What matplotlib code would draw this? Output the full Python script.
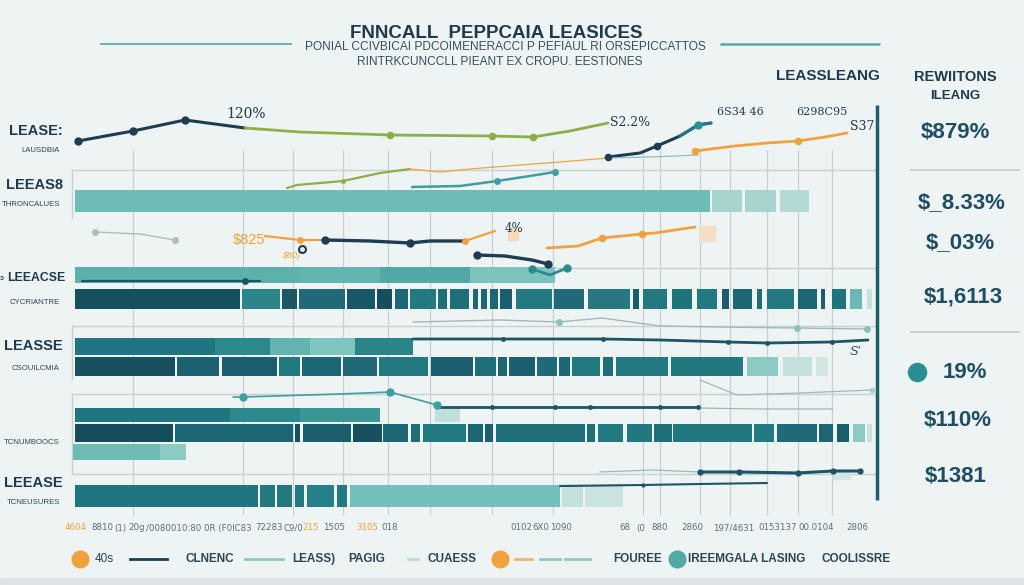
import matplotlib
matplotlib.use("Agg")
import matplotlib.pyplot as plt

plt.rcParams['font.family'] = ['Liberation Sans', 'DejaVu Sans']

BG = '#eef3f4'
NAVY = '#1e3d52'
DTEAL = '#1b5f6e'
TEAL = '#2b8589'
LTEAL = '#6dbcb5'
PALE = '#b9ddd8'
ORANGE = '#f0a23e'
GREEN = '#8fae45'
GRID = '#c9d0d3'
GREYLINE = '#9fb9ba'

# ---------------- data ----------------
title = "FNNCALL  PEPPCAIA LEASICES"
subtitle1 = "PONIAL CCIVBICAI PDCOIMENERACCI P PEFIAUL RI ORSEPICCATTOS"
subtitle2 = "RINTRKCUNCCLL PIEANT EX CROPU. EESTIONES"

left_labels = ["LEASE:", "LEEAS8", "LEEACSE", "LEASSE", "LEEASE"]
left_label_size = [10.5, 10.5, 8.8, 10.5, 10.5]
left_label_right = [63, 63, 65, 63, 63]
left_sublabels = ["LAUSDBIA", "THRONCALUES", "CYCRIANTRE", "CSOUILCMIA", "TCNUMBOOCS", "TCNEUSURES"]

right_head = ["REWIITONS", "ILEANG"]
right_values = ["$879%", "$_8.33%", "$_03%", "$1,6113", "19%", "$110%", "$1381"]

grid_x = [133, 243, 293, 343, 388, 430, 492, 553, 643, 660, 700, 730, 767, 798, 832]

# bar rows: starts, widths, colours
row1_start = [75, 712, 745, 780]
row1_width = [635, 30, 31, 29]
row1_col = [LTEAL, '#a6d4cf', '#a6d4cf', '#b3dad5']

row2_start = [75, 300, 380, 470]
row2_width = [225, 80, 90, 85]
row2_col = ['#5cb1ac', '#63b5b0', '#52a8a4', '#7cc3bd']

row3_start = [75, 242, 282, 299, 347, 377, 395, 410, 438, 450, 473, 481, 490, 500, 516, 554,
              588, 633, 643, 672, 697, 722, 733, 757, 767, 798, 821, 832, 850, 867]
row3_width = [165, 38, 15, 46, 28, 15, 13, 26, 9, 19, 5, 6, 8, 12, 36, 30,
              42, 6, 24, 20, 20, 7, 19, 5, 27, 19, 4, 14, 12, 5]
row3_col = ['#17505f', TEAL, '#1a5866', '#1f6a76', '#175766', '#174e5d', '#1d6673', '#227a80',
            '#1f6f79', '#1f6f79', '#1d6673', '#1d6673', '#1d6673', '#1b5f6e', '#227a80', '#1f6a76',
            '#26777f', '#1b5f6e', '#227a80', '#1f747c', '#227a80', '#1b5f6e', '#1d6673', '#1f6f79',
            '#227a80', '#1d6673', '#1b5f6e', '#1f747c', '#6ab8b1', '#c6e2de']

row4_start = [75, 215, 270, 310, 355]
row4_width = [140, 55, 40, 45, 58]
row4_col = ['#1f7680', '#2c8a8d', '#62b4ae', '#7fc4bd', '#2a8589']

row5_start = [75, 177, 222, 279, 302, 343, 379, 431, 475, 498, 509, 537, 559, 572, 603, 616,
              671, 747, 783, 816]
row5_width = [100, 42, 55, 21, 39, 34, 49, 42, 21, 9, 26, 20, 11, 28, 10, 52,
              72, 31, 29, 12]
row5_col = ['#17505f', '#1d6270', '#1b5f6e', '#227a80', '#1d6673', '#1f6a76', '#227a80', '#1b5f6e',
            '#1f6f79', '#1d6673', '#1b5f6e', '#1f6a76', '#1d6673', '#227a80', '#1f6f79', '#227a80',
            '#22787e', '#8ccac3', '#c4e0dc', '#cfe6e2']

row6_start = [75, 230, 300, 435]
row6_width = [155, 70, 80, 25]
row6_col = ['#1f7680', '#2c8a8d', '#3a9796', '#c0dfda']

row7_start = [75, 175, 295, 303, 353, 383, 411, 423, 468, 485, 496, 587, 598, 627, 654, 673,
              754, 777, 819, 837, 853, 867]
row7_width = [98, 118, 5, 48, 29, 25, 9, 43, 15, 8, 89, 8, 25, 25, 18, 79,
              20, 40, 14, 12, 12, 5]
row7_col = ['#164d5c', '#1d6673', '#17505f', '#1b5f6e', '#17505f', '#1d6673', '#1f6f79', '#227a80',
            '#1d6673', '#1b5f6e', '#1f6f79', '#1f6f79', '#227a80', '#22787e', '#1f6f79', '#22787e',
            '#227a80', '#1f6a76', '#1d6673', '#1b5f6e', '#8ccac3', '#c6e2de']

row8_start = [73, 160]
row8_width = [87, 26]
row8_col = ['#6cbcb5', '#8dcbc4']

row9_start = [75, 260, 277, 295, 307, 337, 350, 562, 585]
row9_width = [183, 15, 15, 9, 27, 10, 210, 21, 38]
row9_col = ['#1f7680', '#227a80', '#227a80', '#227a80', '#26808a', '#227a80', '#72c0b9', '#c3e0dc', '#c9e3df']

bar_rows = [
    (201, 22, row1_start, row1_width, row1_col),
    (275, 16, row2_start, row2_width, row2_col),
    (298.5, 20, row3_start, row3_width, row3_col),
    (346.5, 17, row4_start, row4_width, row4_col),
    (366.5, 19, row5_start, row5_width, row5_col),
    (415, 14, row6_start, row6_width, row6_col),
    (433, 18, row7_start, row7_width, row7_col),
    (452, 16, row8_start, row8_width, row8_col),
    (496, 22, row9_start, row9_width, row9_col),
]

# trend lines
navy_top_x = [78, 133, 185, 245]
navy_top_y = [141, 131, 120, 128]
green_top_x = [245, 300, 390, 492, 533, 570, 608]
green_top_y = [128, 132, 135, 136, 137, 131, 123]
navy_curve_x = [608, 640, 657, 680, 698, 711]
navy_curve_y = [157, 153, 146, 136, 125, 123]
orange_top_x = [695, 735, 767, 798, 825, 847]
orange_top_y = [151, 146, 143, 141, 137, 133]
green_mid_x = [287, 297, 343, 380, 410]
green_mid_y = [188, 185, 181, 173, 169]
orange_thin_x = [410, 440, 470, 520, 560, 608]
orange_thin_y = [169, 172, 169, 165, 162, 158]
teal_thin_x = [608, 650, 698]
teal_thin_y = [158, 157, 155]
teal_mid_x = [412, 460, 497, 530, 555]
teal_mid_y = [187, 186, 181, 176, 172]
sage_left_x = [95, 140, 175]
sage_left_y = [232, 234, 240]
orange_mid_x = [265, 300, 325]
orange_mid_y = [236, 240, 240]
navy_mid_x = [325, 370, 410, 430, 465]
navy_mid_y = [240, 241, 243, 241, 241]
orange_mid2_x = [465, 480, 495]
orange_mid2_y = [241, 236, 231]
orange_right_x = [547, 578, 602, 642, 655, 695]
orange_right_y = [248, 246, 238, 234, 233, 227]
navy_low_x = [477, 505, 532, 548]
navy_low_y = [255, 256, 260, 264]
teal_low_x = [532, 550, 567]
teal_low_y = [269, 275, 268]
navy_bar_x = [82, 150, 220, 245, 260]
navy_bar_y = [281, 281, 281, 281, 281]
grey_r4_x = [413, 500, 559, 602, 660, 720, 797, 867]
grey_r4_y = [322, 320, 322, 318, 326, 327, 328, 329]
navy_r4_x = [413, 503, 560, 603, 660, 728, 767, 832, 868]
navy_r4_y = [339, 339, 339, 339, 340, 342, 343, 342, 340]
grey_r5_x = [700, 737, 800, 872]
grey_r5_y = [380, 395, 393, 390]
teal_r6_x = [233, 243, 340, 390, 437]
teal_r6_y = [397, 397, 394, 392, 405]
navy_r6_x = [437, 492, 555, 590, 660, 698]
navy_r6_y = [407, 407, 407, 407, 407, 407]
grey_r6_x = [698, 760, 833]
grey_r6_y = [408, 409, 409]
navy_r8_x = [560, 643, 700, 767]
navy_r8_y = [486, 485, 484, 483]
grey_r8_x = [600, 653, 700]
grey_r8_y = [472, 470, 472]
navy_r9_x = [700, 739, 798, 833, 860]
navy_r9_y = [472, 472, 473, 471, 471]

line_specs = [
    (navy_top_x, navy_top_y, NAVY, 2.2, [0, 1, 2], NAVY, 6),
    (green_top_x, green_top_y, GREEN, 2.0, [2, 3, 4], GREEN, 5.5),
    (navy_curve_x, navy_curve_y, NAVY, 2.2, [0, 2], NAVY, 5.5),
    (navy_curve_x[3:], navy_curve_y[3:], '#23788a', 2.0, [1], '#2a8f99', 6),
    (orange_top_x, orange_top_y, ORANGE, 2.0, [0, 3], ORANGE, 5.5),
    (green_mid_x, green_mid_y, GREEN, 1.6, [2], GREEN, 3.5),
    (orange_thin_x, orange_thin_y, ORANGE, 0.9, [], ORANGE, 0),
    (teal_thin_x, teal_thin_y, '#8dbfbd', 0.9, [], ORANGE, 0),
    (teal_mid_x, teal_mid_y, '#3f9ea0', 1.8, [2, 4], '#3f9ea0', 5),
    (sage_left_x, sage_left_y, '#a9c3b1', 1.0, [0, 2], '#a9c3b1', 5),
    (orange_mid_x, orange_mid_y, ORANGE, 1.6, [1], ORANGE, 5),
    (navy_mid_x, navy_mid_y, NAVY, 2.4, [0, 2], NAVY, 6),
    (orange_mid2_x, orange_mid2_y, ORANGE, 1.6, [0], ORANGE, 5),
    (orange_right_x, orange_right_y, ORANGE, 2.0, [2, 3], ORANGE, 5.5),
    (navy_low_x, navy_low_y, NAVY, 2.4, [0, 3], NAVY, 6),
    (teal_low_x, teal_low_y, '#2e8a8f', 2.0, [0, 2], '#2e8a8f', 6),
    (navy_bar_x, navy_bar_y, '#1d5566', 1.6, [3], '#1d5566', 5),
    (grey_r4_x, grey_r4_y, GREYLINE, 1.0, [2, 6, 7], '#8fc0bc', 5),
    (navy_r4_x, navy_r4_y, '#1d5566', 2.0, [1, 3, 5, 6, 7], '#1d5566', 3.5),
    (grey_r5_x, grey_r5_y, GREYLINE, 0.9, [3], '#a9c9c5', 4),
    (teal_r6_x, teal_r6_y, '#3f9ea0', 1.2, [1, 3, 4], '#3f9ea0', 6),
    (navy_r6_x, navy_r6_y, '#1d5566', 2.0, [1, 2, 3, 4, 5], '#1d5566', 3.5),
    (grey_r6_x, grey_r6_y, GREYLINE, 0.9, [], GREYLINE, 0),
    (navy_r8_x, navy_r8_y, '#1d5566', 1.5, [1], '#1d5566', 3),
    (grey_r8_x, grey_r8_y, GREYLINE, 0.9, [], GREYLINE, 0),
    (navy_r9_x, navy_r9_y, '#1d5566', 2.2, [0, 1, 2, 3, 4], '#1d5566', 4.5),
]

tick_texts = ["4604", "8810", "(1)", "20g", "/0080010:80", "0R (F0IC83", "72283", "C9/0", "215", "1505",
              "3105", "018", "0102", "6X0", "1090", "68", "(0", "880", "2860", "197/4631", "0153137",
              "00.0104", "2806"]
tick_pos = [76, 102, 120, 137, 174, 228, 269, 293, 311, 334, 367, 390, 521, 541, 561, 625, 641, 660,
            692, 734, 778, 816, 857]
tick_orange = [True, False, False, False, False, False, False, False, True, False, True, False, False,
               False, False, False, False, False, False, False, False, False, False]

legend_texts = ["40s", "CLNENC", "LEASS)", "PAGIG", "CUAESS", "FOUREE", "IREEMGALA LASING", "COOLISSRE"]
legend_pos = [95, 185, 292, 348, 428, 613, 688, 822]

# ---------------- drawing ----------------
fig = plt.figure(figsize=(10.24, 5.85), dpi=100)
fig.patch.set_facecolor(BG)
ax = fig.add_axes([0, 0, 1, 1])
ax.set_xlim(0, 1024)
ax.set_ylim(585, 0)
ax.axis('off')
ax.set_facecolor(BG)

# bottom strip
ax.axhspan(578, 585, color='#dde2e4', zorder=0)

# grid
ax.vlines(grid_x, 150, 515, colors=GRID, linewidth=0.9, zorder=1)
for yy in [170, 326, 394]:
    ax.hlines(yy, 72, 877, colors=GRID, linewidth=1.0, zorder=1)
ax.hlines(474, 72, 877, colors=GRID, linewidth=1.0, zorder=1)
ax.hlines(268, 553, 877, colors=GRID, linewidth=1.0, zorder=1)
ax.vlines(72, 170, 218, colors=GRID, linewidth=1.0, zorder=1)
ax.vlines(72, 326, 380, colors=GRID, linewidth=1.0, zorder=1)
ax.vlines(72, 394, 474, colors=GRID, linewidth=1.0, zorder=1)

# title lines
ax.hlines(44, 100, 292, colors='#6fb4b0', linewidth=1.5)
ax.hlines(44, 720, 880, colors='#5aa8a6', linewidth=1.8)
ax.text(496, 33, title, ha='center', va='center', fontsize=13.5, fontweight='bold', color='#1f3a4d')
ax.text(505, 47, subtitle1, ha='center', va='center', fontsize=8.6, color='#33505e')
ax.text(500, 62, subtitle2, ha='center', va='center', fontsize=8.6, color='#33505e')

# vertical separator
ax.vlines(877, 105, 500, colors='#1d5f6b', linewidth=2.5, zorder=3)

# bars
for yc, h, starts, widths, cols in bar_rows:
    ax.barh(yc, widths, left=starts, height=h, color=cols, linewidth=0, zorder=2)

# lines
for xs, ys, c, lw, midx, mc, ms in line_specs:
    ax.plot(xs, ys, color=c, linewidth=lw, zorder=4, solid_capstyle='round')
    if midx and ms:
        ax.plot([xs[i] for i in midx], [ys[i] for i in midx], 'o', color=mc, markersize=ms,
                zorder=5, markeredgewidth=0)

# small extra marks
ax.plot([302], [249], 'o', mfc='none', mec=NAVY, markersize=5, mew=1.5, zorder=5)
ax.add_patch(plt.Rectangle((508, 228), 10, 12, color='#f3d9b8', zorder=3))
ax.add_patch(plt.Rectangle((699, 226), 16, 15, color='#f3dfc6', zorder=3))
ax.add_patch(plt.Rectangle((833, 471), 17, 8, color='#d6e6e4', zorder=3))

# line annotations
ax.text(246, 114, "120%", ha='center', va='center', fontsize=10, color='#1f3a4d', family='DejaVu Serif')
ax.text(610, 122, "S2.2%", ha='left', va='center', fontsize=9, color='#1f3a4d', family='DejaVu Serif')
ax.text(740, 112, "6S34 46", ha='center', va='center', fontsize=8, color='#1f3a4d', family='DejaVu Serif')
ax.text(822, 112, "6298C95", ha='center', va='center', fontsize=8, color='#1f3a4d', family='DejaVu Serif')
ax.text(850, 126, "S37", ha='left', va='center', fontsize=9, color='#1f3a4d', family='DejaVu Serif')
ax.text(233, 240, "$825", ha='left', va='center', fontsize=10.5, color=ORANGE)
ax.text(282, 256, "$80)", ha='left', va='center', fontsize=6.5, color=ORANGE, style='italic')
ax.text(505, 229, "4%", ha='left', va='center', fontsize=8.5, color='#1f3a4d', family='DejaVu Serif')
ax.text(850, 352, "S'", ha='left', va='center', fontsize=9, color='#1f5a6a', style='italic')

# left labels
lab_y = [131, 185, 278, 346, 483]
for txt, yy, fs, xr in zip(left_labels, lab_y, left_label_size, left_label_right):
    ax.text(xr, yy, txt, ha='right', va='center', fontsize=fs, fontweight='bold', color='#1f3a4d')
ax.text(0, 278, "ɔ", ha='left', va='center', fontsize=5, fontweight='bold', color='#1f3a4d')
sub_y = [150, 205, 302, 368, 443, 503]
for txt, yy in zip(left_sublabels, sub_y):
    ax.text(60, yy, txt, ha='right', va='center', fontsize=5.6, color='#2b4655')

# top right head
ax.text(880, 76, "LEASSLEANG", ha='right', va='center', fontsize=11, fontweight='bold', color='#1f3a4d')
ax.text(955, 77, right_head[0], ha='center', va='center', fontsize=10.5, fontweight='bold', color='#1f3a4d')
ax.text(955, 96, right_head[1], ha='center', va='center', fontsize=9.5, fontweight='bold', color='#1f3a4d')

# right values
val_y = [133, 203, 243, 297, 372, 420, 477]
val_x = [955, 962, 960, 963, 965, 958, 956]
for txt, yy, xx in zip(right_values, val_y, val_x):
    ax.text(xx, yy, txt, ha='center', va='center', fontsize=16, fontweight='bold', color='#1f4e63')
ax.plot([917], [372], 'o', color='#2a8f92', markersize=13, zorder=5)
ax.hlines([170, 332], 910, 1020, colors='#c3cacd', linewidth=1.2)

# bottom tick labels
for txt, xx, orng in zip(tick_texts, tick_pos, tick_orange):
    ax.text(xx, 528, txt, ha='center', va='center', fontsize=6.2,
            color=ORANGE if orng else '#5a6f78', family='DejaVu Sans')

# legend
ax.plot([80], [559], 'o', color=ORANGE, markersize=12)
ax.plot([130, 167], [559, 559], color=NAVY, linewidth=2)
ax.plot([245, 283], [559, 559], color='#8cc9c2', linewidth=2)
ax.plot([408, 418], [559, 559], color='#b9dcd6', linewidth=2)
ax.plot([500], [559], 'o', color=ORANGE, markersize=12)
ax.plot([515, 532], [559, 559], color='#f2b46a', linewidth=2)
ax.plot([540, 560], [559, 559], color='#8cc9c2', linewidth=2)
ax.plot([565, 590], [559, 559], color='#8cc9c2', linewidth=2)
ax.plot([677], [559], 'o', color='#4faaa8', markersize=12)
for txt, xx in zip(legend_texts, legend_pos):
    ax.text(xx, 559, txt, ha='left', va='center', fontsize=8.5,
            fontweight='bold' if txt != "40s" else 'normal', color='#2b4655')

fig.savefig('out.png', dpi=100, facecolor=BG)
